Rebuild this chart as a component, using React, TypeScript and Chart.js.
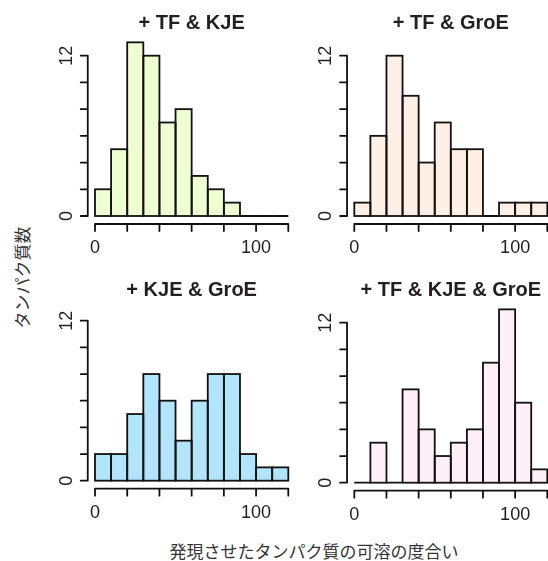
import React, { useEffect, useRef } from 'react';
import { Chart, registerables } from 'chart.js';

Chart.register(...registerables);

// ---------- data ----------
const binStarts = [0, 10, 20, 30, 40, 50, 60, 70, 80, 90, 100, 110];
const BIN_WIDTH = 10;
const xTickValues = [0, 20, 40, 60, 80, 100, 120];
const xTickLabels = ['0', '', '', '', '', '100', ''];
const yTickValues = [0, 2, 4, 6, 8, 10, 12];
const yTickLabels = ['0', '', '', '', '', '', '12'];

const panelTitles = ['+ TF & KJE', '+ TF & GroE', '+ KJE & GroE', '+ TF & KJE & GroE'];
const countsTfKje = [2, 5, 13, 12, 7, 8, 3, 2, 1, 0, 0, 0];
const countsTfGroe = [1, 6, 12, 9, 4, 7, 5, 5, 0, 1, 1, 1];
const countsKjeGroe = [2, 2, 5, 8, 6, 3, 6, 8, 8, 2, 1, 1];
const countsTfKjeGroe = [0, 3, 0, 7, 4, 2, 3, 4, 9, 13, 6, 1];
const panelCounts = [countsTfKje, countsTfGroe, countsKjeGroe, countsTfKjeGroe];

const xAxisTitle = '発現させたタンパク質の可溶の度合い';
const yAxisTitle = 'タンパク質数';

// ---------- styles / layout ----------
const fillColors = ['#F0FFD2', '#FFF0E5', '#B2E4FB', '#FFF0F8'];
const X_MIN = -4.5;
const X_MAX = 124.5;
const Y_MIN = -0.6;
const Y_MAX = 13.4;
const LATIN_FONT = "'Liberation Sans', Arial, Helvetica, sans-serif";
const CJK_FONT = "'Noto Sans CJK JP', 'Noto Sans', sans-serif";
const TITLE_SIZE = 20;
const TICK_SIZE = 18;
const LINE_W = 1.8;

// pixel anchors of each panel (where 0/120 on x and 0/12 on y land on the page)
const panelGeom = [
  { x0: 95, x120: 288.3, y0: 216, y12: 55.7, titleMid: 23.5 },
  { x0: 354.3, x120: 547.3, y0: 216, y12: 55.7, titleMid: 23.5 },
  { x0: 95, x120: 288.3, y0: 480.7, y12: 320.7, titleMid: 290 },
  { x0: 354.3, x120: 547.3, y0: 482.7, y12: 322.7, titleMid: 290 },
];

const rAxesPlugin = {
  id: 'rAxes',
  afterDatasetsDraw(chart: any) {
    const ctx = chart.ctx as CanvasRenderingContext2D;
    const xs = chart.scales.x;
    const ys = chart.scales.y;
    const area = chart.chartArea;
    ctx.save();
    // bar outlines (centered on the edges, like R's rect())
    ctx.strokeStyle = '#111';
    ctx.lineWidth = LINE_W;
    ctx.lineJoin = 'miter';
    const meta = chart.getDatasetMeta(0);
    meta.data.forEach((bar: any) => {
      const { x, y, base, width } = bar.getProps(['x', 'y', 'base', 'width'], true);
      ctx.strokeRect(x - width / 2, y, width, base - y);
    });

    // x axis
    ctx.lineCap = 'round';
    const yb = area.bottom;
    ctx.beginPath();
    ctx.moveTo(xs.getPixelForValue(xTickValues[0]), yb);
    ctx.lineTo(xs.getPixelForValue(xTickValues[xTickValues.length - 1]), yb);
    xTickValues.forEach((v) => {
      const px = xs.getPixelForValue(v);
      ctx.moveTo(px, yb);
      ctx.lineTo(px, yb + 7);
    });
    ctx.stroke();

    // y axis
    const xl = area.left;
    ctx.beginPath();
    ctx.moveTo(xl, ys.getPixelForValue(yTickValues[0]));
    ctx.lineTo(xl, ys.getPixelForValue(yTickValues[yTickValues.length - 1]));
    yTickValues.forEach((v) => {
      const py = ys.getPixelForValue(v);
      ctx.moveTo(xl, py);
      ctx.lineTo(xl - 7, py);
    });
    ctx.stroke();

    // tick labels
    ctx.fillStyle = '#222';
    ctx.font = `${TICK_SIZE}px ${LATIN_FONT}`;
    ctx.textAlign = 'center';
    ctx.textBaseline = 'alphabetic';
    xTickValues.forEach((v, i) => {
      if (!xTickLabels[i]) return;
      ctx.fillText(xTickLabels[i], xs.getPixelForValue(v), yb + 29);
    });
    yTickValues.forEach((v, i) => {
      if (!yTickLabels[i]) return;
      ctx.save();
      ctx.translate(xl - 16, ys.getPixelForValue(v));
      ctx.rotate(-Math.PI / 2);
      ctx.fillText(yTickLabels[i], 0, 0);
      ctx.restore();
    });
    ctx.restore();
  },
};

function Panel({ index }: { index: number }) {
  const ref = useRef<HTMLCanvasElement | null>(null);
  const g = panelGeom[index];
  const kx = (g.x120 - g.x0) / 120;
  const ky = (g.y0 - g.y12) / 12;
  const left = g.x0 + X_MIN * kx;
  const right = g.x0 + X_MAX * kx;
  const top = g.y0 - Y_MAX * ky;
  const bottom = g.y0 - Y_MIN * ky;
  const padTop = 2;
  const cx = Math.floor(left - 50);
  const cy = Math.floor(g.titleMid - TITLE_SIZE / 2 - padTop);
  const cw = Math.ceil(right + 50 - cx);
  const ch = Math.ceil(bottom + 40 - cy);
  const titleTopOffset = g.titleMid - TITLE_SIZE / 2 - cy; // layout padding top
  const titlePadBottom = Math.max(0, top - (g.titleMid + TITLE_SIZE / 2));
  const padLeft = left - cx;
  const padRight = cx + cw - right;
  const padBottom = cy + ch - bottom;

  useEffect(() => {
    if (!ref.current) return;
    const centers = binStarts.map((s) => s + BIN_WIDTH / 2);
    const chart = new Chart(ref.current, {
      type: 'bar',
      data: {
        datasets: [
          {
            data: centers.map((c, i) => ({ x: c, y: panelCounts[index][i] })),
            backgroundColor: fillColors[index],
            borderWidth: 0,
            barPercentage: 1,
            categoryPercentage: 1,
          } as any,
        ],
      },
      options: {
        animation: false,
        responsive: false,
        devicePixelRatio: 1,
        layout: { padding: { left: padLeft, right: padRight, top: titleTopOffset, bottom: padBottom } },
        plugins: {
          legend: { display: false },
          tooltip: { enabled: false },
          title: {
            display: true,
            text: panelTitles[index],
            color: '#231F20',
            font: { family: LATIN_FONT, size: TITLE_SIZE, weight: 'bold', lineHeight: 1 },
            padding: { top: 0, bottom: titlePadBottom },
          },
        },
        scales: {
          x: { type: 'linear', min: X_MIN, max: X_MAX, offset: false, display: false },
          y: { type: 'linear', min: Y_MIN, max: Y_MAX, display: false },
        },
      } as any,
      plugins: [rAxesPlugin],
    });
    return () => chart.destroy();
  }, [index]);

  return (
    <canvas
      ref={ref}
      width={cw}
      height={ch}
      style={{ position: 'absolute', left: cx, top: cy, width: cw, height: ch }}
    />
  );
}

export default function App() {
  return (
    <div
      style={{
        position: 'absolute',
        left: 0,
        top: 0,
        width: 548,
        height: 561,
        overflow: 'hidden',
        background: '#fff',
      }}
    >
      {[0, 1, 2, 3].map((i) => (
        <Panel key={i} index={i} />
      ))}
      <div
        style={{
          position: 'absolute',
          left: 114,
          top: 542,
          width: 400,
          textAlign: 'center',
          fontFamily: CJK_FONT,
          fontSize: 17,
          lineHeight: '17px',
          color: '#333',
          whiteSpace: 'nowrap',
        }}
      >
        {xAxisTitle}
      </div>
      <div
        style={{
          position: 'absolute',
          left: 20.7 - 100,
          top: 277.5 - 8.5,
          width: 200,
          height: 17,
          textAlign: 'center',
          fontFamily: CJK_FONT,
          fontSize: 17,
          lineHeight: '17px',
          color: '#333',
          whiteSpace: 'nowrap',
          transform: 'rotate(-90deg)',
        }}
      >
        {yAxisTitle}
      </div>
    </div>
  );
}
